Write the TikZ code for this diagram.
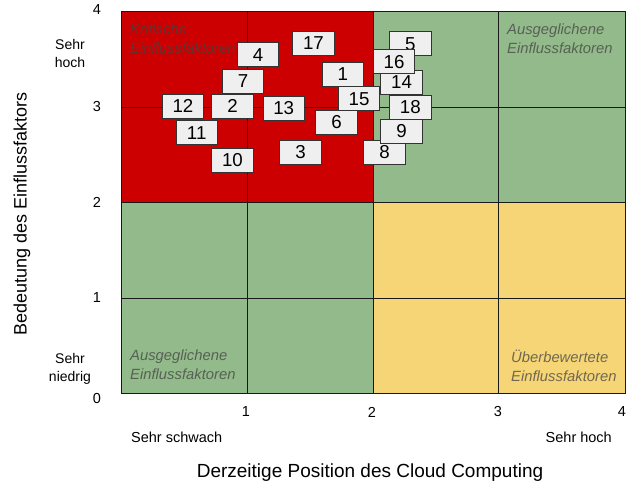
\documentclass[tikz,border=0pt]{standalone}
\usepackage{fontspec}
\setmainfont{Liberation Sans}
\definecolor{qred}{HTML}{CC0000}
\definecolor{qgreen}{HTML}{93BA8A}
\definecolor{qyellow}{HTML}{F6D577}
\definecolor{boxfill}{HTML}{EFEFEF}
\definecolor{qtext}{HTML}{434343}
\tikzset{
  numbox/.style={draw=black!80, fill=boxfill, line width=0.8pt, minimum width=41.5pt, minimum height=24pt, inner sep=0pt, font=\fontsize{18.7}{20}\selectfont},
  quadlabel/.style={anchor=north west, align=left, inner sep=0pt, text=qtext, text opacity=0.75, font=\fontsize{14.8}{19}\selectfont\itshape},
  ticklabel/.style={inner sep=0pt, font=\fontsize{14.5}{16}\selectfont},
  sidelabel/.style={inner sep=0pt, align=center, font=\fontsize{14}{17.5}\selectfont},
  gridline/.style={line width=0.9pt, black!90}
}
\begin{document}
\begin{tikzpicture}[x=1pt,y=-1pt]
\useasboundingbox (0,0) rectangle (635,487);
% quadrants
\fill[qred] (121,11.7) rectangle (373,202);
\fill[qgreen] (373,11.7) rectangle (625,202);
\fill[qgreen] (121,202) rectangle (373,393);
\fill[qyellow] (373,202) rectangle (625,393);
% grid
\draw[gridline] (247,11.7) -- (247,393);
\draw[gridline] (373,11.7) -- (373,393);
\draw[gridline] (498,11.7) -- (498,393);
\draw[gridline] (121,107) -- (625,107);
\draw[gridline] (121,202) -- (625,202);
\draw[gridline] (121,298) -- (625,298);
\draw[gridline] (121,11.7) rectangle (625,393);
% quadrant labels
\node[quadlabel] (qtl) at (130,24) {Kritische\\Einflussfaktoren};
\node[quadlabel] (qtr) at (507,24) {Ausgeglichene\\Einflussfaktoren};
\node[quadlabel] (qbl) at (130,350) {Ausgeglichene\\Einflussfaktoren};
\node[quadlabel] (qbr) at (511,350) {Überbewertete\\Einflussfaktoren};
% y ticks
\node[ticklabel] (y4) at (97,10) {4};
\node[ticklabel] (y3) at (97,107) {3};
\node[ticklabel] (y2) at (97,202) {2};
\node[ticklabel] (y1) at (97,298) {1};
\node[ticklabel] (y0) at (97,399) {0};
\node[sidelabel] (yhi) at (70,53.5) {Sehr\\hoch};
\node[sidelabel] (ylo) at (70,369) {Sehr\\niedrig};
% x ticks
\node[ticklabel] (x1) at (246,412) {1};
\node[ticklabel] (x2) at (372,412) {2};
\node[ticklabel] (x3) at (498,412) {3};
\node[ticklabel] (x4) at (622,412) {4};
\node[ticklabel, anchor=west] (xlo) at (131,437) {Sehr schwach};
\node[ticklabel, anchor=east] (xhi) at (612,437) {Sehr hoch};
% axis titles
\node[inner sep=0pt, font=\fontsize{19}{22}\selectfont] (xtitle) at (370,473) {Derzeitige Position des Cloud Computing};
\node[inner sep=0pt, rotate=90, font=\fontsize{18}{22}\selectfont] (ytitle) at (22,214) {Bedeutung des Einflussfaktors};
% factor boxes
\node[numbox] (n1) at (342.7,74) {1};
\node[numbox] (n2) at (232.5,106) {2};
\node[numbox] (n3) at (300.5,152) {3};
\node[numbox] (n4) at (258,54.7) {4};
\node[numbox] (n5) at (410.3,43.7) {5};
\node[numbox] (n6) at (336.5,122.5) {6};
\node[numbox] (n7) at (243,81.3) {7};
\node[numbox] (n8) at (384.5,152) {8};
\node[numbox] (n9) at (401.5,131) {9};
\node[numbox] (n10) at (232.5,160.5) {10};
\node[numbox] (n11) at (196.7,132.7) {11};
\node[numbox] (n12) at (183,106) {12};
\node[numbox] (n13) at (283.7,108) {13};
\node[numbox] (n14) at (401.5,82.3) {14};
\node[numbox] (n15) at (359,98.8) {15};
\node[numbox] (n16) at (394,61.7) {16};
\node[numbox] (n17) at (313.5,43) {17};
\node[numbox] (n18) at (410.3,107) {18};
\end{tikzpicture}
\end{document}
